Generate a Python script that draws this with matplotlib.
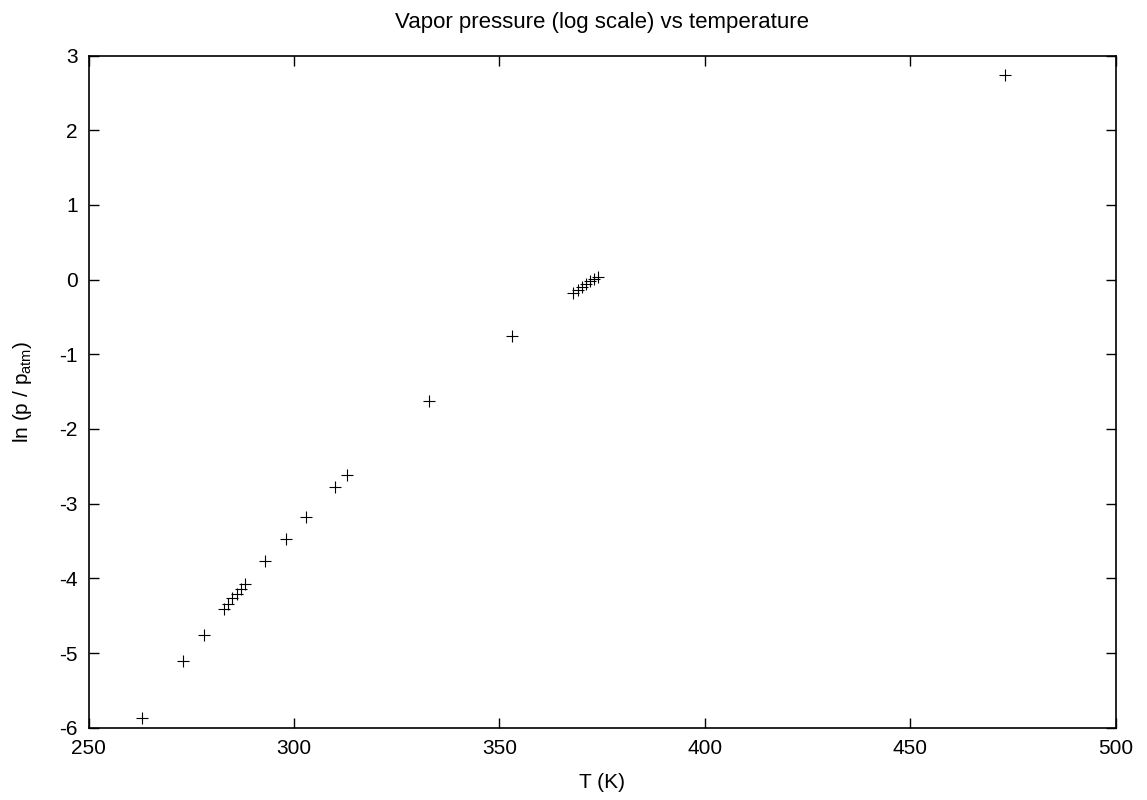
import matplotlib
matplotlib.use("Agg")
import matplotlib.pyplot as plt

plt.rcParams['font.family'] = ['Liberation Sans', 'DejaVu Sans']
plt.rcParams['mathtext.default'] = 'regular'
plt.rcParams['axes.unicode_minus'] = False

T = [263.0, 273.0, 278.1, 283.0, 284.0, 285.0, 286.0, 287.0, 288.0,
     293.0, 298.1, 303.0, 310.0, 312.9, 332.9, 353.1,
     368.0, 369.0, 370.0, 371.0, 372.0, 373.0, 374.0, 473.1]
lnp = [-5.87, -5.11, -4.76, -4.41, -4.34, -4.27, -4.21, -4.14, -4.08,
       -3.77, -3.47, -3.18, -2.78, -2.62, -1.63, -0.76,
       -0.18, -0.14, -0.10, -0.06, -0.02, 0.01, 0.04, 2.74]

xticks = [250, 300, 350, 400, 450, 500]
yticks = [-6, -5, -4, -3, -2, -1, 0, 1, 2, 3]

fig = plt.figure(figsize=(11.47, 8.0), dpi=100)
ax = fig.add_axes([0.0773, 0.0904, 0.8954, 0.8401])
ax.plot(T, lnp, linestyle='none', marker='+', color='black', markersize=8, markeredgewidth=0.8)
ax.set_xlim(250, 500)
ax.set_ylim(-6, 3)
ax.set_xticks(xticks)
ax.set_yticks(yticks)
ax.tick_params(direction='in', top=True, right=True, length=7, width=1.0, labelsize=15, pad=8)
for s in ax.spines.values():
    s.set_linewidth(1.2)
ax.set_xlabel('T (K)', fontsize=15, labelpad=11)
ax.set_ylabel('ln (p / p$_{atm}$)', fontsize=15, labelpad=18)
ax.set_title('Vapor pressure (log scale) vs temperature', fontsize=16, pad=20)
fig.savefig('out.png', dpi=100)
